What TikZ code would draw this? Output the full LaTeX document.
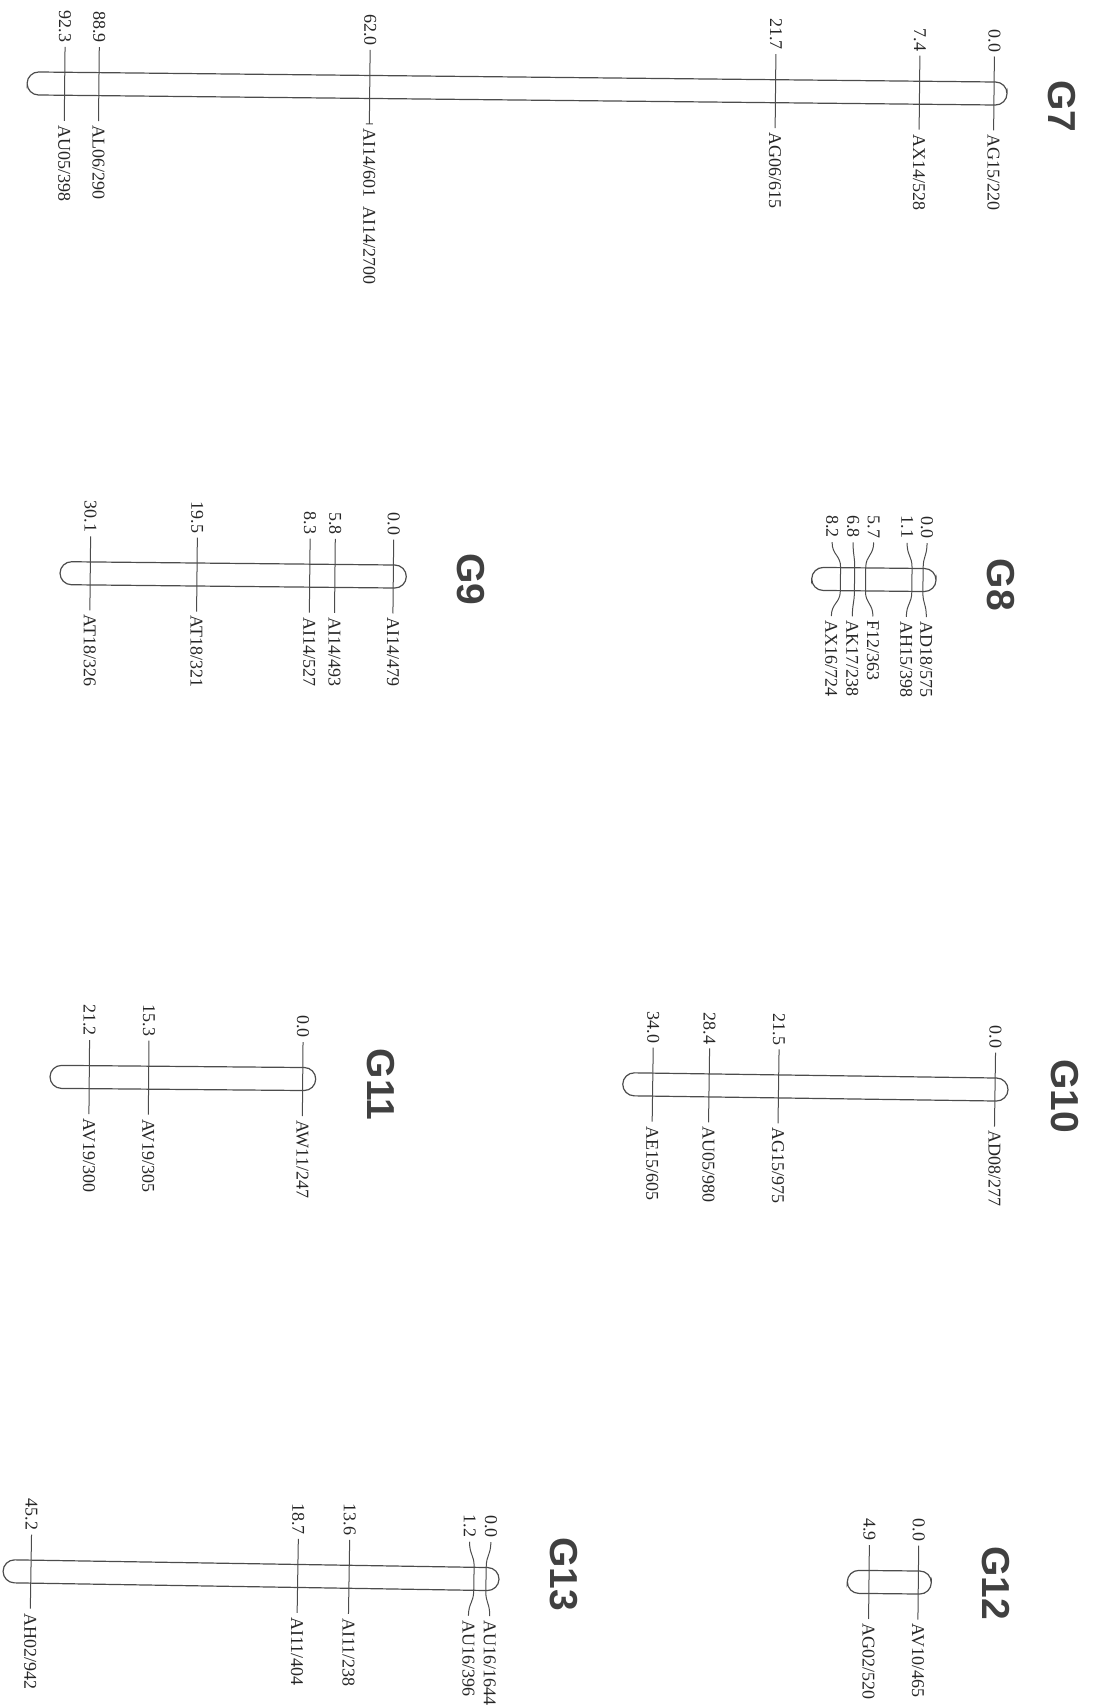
\documentclass[tikz,border=0pt]{standalone}
\usepackage{fontspec}
\setmainfont{Liberation Serif}
\setsansfont{Liberation Sans}

\begin{document}
\begin{tikzpicture}[
  x=0.5pt,y=-0.5pt,
  bar/.style={draw=black!70,line width=0.6pt,rounded corners=5.75pt},
  tick/.style={black!70,line width=0.5pt},
  num/.style={rotate=-90,anchor=east,inner sep=2pt,text=black!85,font=\fontsize{9}{10}\selectfont},
  mrk/.style={rotate=-90,anchor=west,inner sep=2pt,text=black!85,font=\fontsize{9}{10}\selectfont},
  grp/.style={rotate=-90,text=black!75,font=\fontsize{19.5}{22}\selectfont\sffamily\bfseries}
]
\useasboundingbox (0,0) rectangle (1103,1706);

% G7
\begin{scope}[shift={(994,93.5)},rotate=-0.6]
  \node[grp] (g7) at (68,12) {G7};
  \foreach \d/\m [count=\i] in {0.0/{AG15/220},7.4/{AX14/528},21.7/{AG06/615},62.0/{AI14/601\enspace AI14/2700},88.9/{AL06/290},92.3/{AU05/398}} {
    \node[num] (n7-\i) at (-\d*10.07,-37) {\d};
    \node[mrk] (m7-\i) at (-\d*10.07,37) {\m};
    \draw[tick] (n7-\i.east) -- (m7-\i.west);
  }
  \draw[tick] (m7-4.west) ++(-3.5,0) -- ++(7,0);
  \draw[bar] (-967,-11.5) rectangle (13,11.5);
\end{scope}

% G8
\begin{scope}[shift={(923,580)},rotate=-0.6]
  \node[grp] (g8) at (78,4) {G8};
  \foreach \d/\sx/\m [count=\i] in {0.0/3.7/{AD18/575},1.1/-16.3/{AH15/398},5.7/-49.7/{F12/363},6.8/-70.3/{AK17/238},8.2/-91.3/{AX16/724}} {
    \node[num] (n8-\i) at (\sx,-37) {\d};
    \node[mrk] (m8-\i) at (\sx,37) {\m};
    \draw[tick] (n8-\i.east) .. controls (\sx,-24) and (-\d*10.07,-24) .. (-\d*10.07,-12)
      -- (-\d*10.07,12) .. controls (-\d*10.07,24) and (\sx,24) .. (m8-\i.west);
  }
  \draw[bar] (-111.3,-11.5) rectangle (13,11.5);
\end{scope}

% G9
\begin{scope}[shift={(393.3,576.5)},rotate=-0.58]
  \node[grp] (g9) at (78,2) {G9};
  \foreach \d/\m [count=\i] in {0.0/{AI14/479},5.8/{AI14/493},8.3/{AI14/527},19.5/{AT18/321},30.1/{AT18/326}} {
    \node[num] (n9-\i) at (-\d*10.07,-37) {\d};
    \node[mrk] (m9-\i) at (-\d*10.07,37) {\m};
    \draw[tick] (n9-\i.east) -- (m9-\i.west);
  }
  \draw[bar] (-333.3,-11.5) rectangle (13,11.5);
\end{scope}

% G10
\begin{scope}[shift={(995,1089.5)},rotate=-0.82]
  \node[grp] (g10) at (70,6) {G10};
  \foreach \d/\m [count=\i] in {0.0/{AD08/277},21.5/{AG15/975},28.4/{AU05/980},34.0/{AE15/605}} {
    \node[num] (n10-\i) at (-\d*10.07,-37) {\d};
    \node[mrk] (m10-\i) at (-\d*10.07,37) {\m};
    \draw[tick] (n10-\i.east) -- (m10-\i.west);
  }
  \draw[bar] (-372.3,-11.5) rectangle (13,11.5);
\end{scope}

% G11
\begin{scope}[shift={(302.7,1079)},rotate=-0.5]
  \node[grp] (g11) at (78,5) {G11};
  \foreach \d/\m [count=\i] in {0.0/{AW11/247},15.3/{AV19/305},21.2/{AV19/300}} {
    \node[num] (n11-\i) at (-\d*10.07,-37) {\d};
    \node[mrk] (m11-\i) at (-\d*10.07,37) {\m};
    \draw[tick] (n11-\i.east) -- (m11-\i.west);
  }
  \draw[bar] (-252.7,-11.5) rectangle (13,11.5);
\end{scope}

% G12
\begin{scope}[shift={(918.3,1582.5)},rotate=-0.6]
  \node[grp] (g12) at (78,0) {G12};
  \foreach \d/\m [count=\i] in {0.0/{AV10/465},4.9/{AG02/520}} {
    \node[num] (n12-\i) at (-\d*10.07,-37) {\d};
    \node[mrk] (m12-\i) at (-\d*10.07,37) {\m};
    \draw[tick] (n12-\i.east) -- (m12-\i.west);
  }
  \draw[bar] (-71,-11.5) rectangle (13,11.5);
\end{scope}

% G13
\begin{scope}[shift={(486,1579)},rotate=-0.93]
  \node[grp] (g13) at (78,-6) {G13};
  \foreach \d/\sx/\m [count=\i] in {0.0/4.3/{AU16/1644},1.2/-17/{AU16/396}} {
    \node[num] (n13-\i) at (\sx,-37) {\d};
    \node[mrk] (m13-\i) at (\sx,37) {\m};
    \draw[tick] (n13-\i.east) .. controls (\sx,-24) and (-\d*10.07,-24) .. (-\d*10.07,-12)
      -- (-\d*10.07,12) .. controls (-\d*10.07,24) and (\sx,24) .. (m13-\i.west);
  }
  \foreach \d/\m [count=\i from 3] in {13.6/{AI11/238},18.7/{AI11/404},45.2/{AH02/942}} {
    \node[num] (n13-\i) at (-\d*10.07,-37) {\d};
    \node[mrk] (m13-\i) at (-\d*10.07,37) {\m};
    \draw[tick] (n13-\i.east) -- (m13-\i.west);
  }
  \draw[bar] (-483,-11.5) rectangle (13,11.5);
\end{scope}
\end{tikzpicture}
\end{document}
